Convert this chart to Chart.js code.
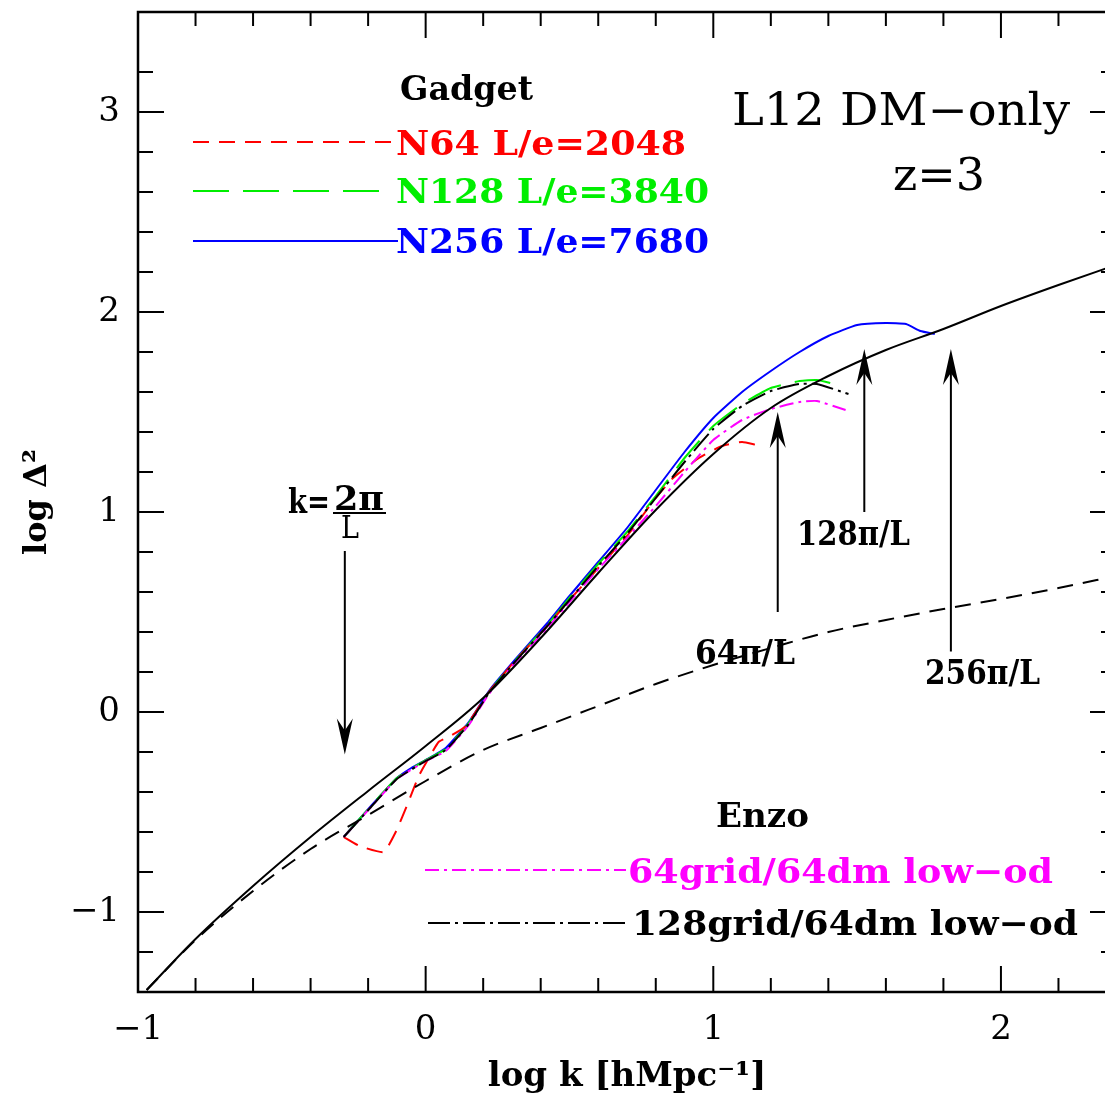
<!DOCTYPE html>
<html>
<head>
<meta charset="utf-8">
<script src="https://cdn.jsdelivr.net/npm/chart.js@4.4.0/dist/chart.umd.min.js"></script>
<style>
  body { margin: 0; overflow: hidden; background: #fff; }
</style>
</head>
<body>
<canvas id="chartPk" width="1120" height="1102"></canvas>
<script>
// log k values and log Delta^2 values
var linX   = [-0.97, -0.8, -0.6, -0.4, -0.2, 0.0, 0.2, 0.4, 0.6, 0.8, 1.0, 1.2, 1.4, 1.6, 1.8, 2.0, 2.2, 2.4];
var linY   = [-1.39, -1.14, -0.895, -0.685, -0.515, -0.345, -0.19, -0.08, 0.03, 0.14, 0.235, 0.32, 0.40, 0.46, 0.515, 0.565, 0.62, 0.68];
var nlX    = [-0.97, -0.8, -0.6, -0.4, -0.2, 0.0, 0.2, 0.4, 0.6, 0.8, 1.0, 1.2, 1.4, 1.6, 1.8, 2.0, 2.2, 2.4];
var nlY    = [-1.39, -1.135, -0.87, -0.625, -0.395, -0.17, 0.07, 0.37, 0.695, 1.01, 1.29, 1.52, 1.68, 1.81, 1.915, 2.03, 2.135, 2.235];

var n256X  = [-0.285, -0.19, -0.1, -0.05, 0.0, 0.07, 0.15, 0.22, 0.31, 0.42, 0.5, 0.6, 0.7, 0.8, 0.9, 1.0, 1.1, 1.2, 1.3, 1.4, 1.5, 1.6, 1.67, 1.72, 1.77];
var n256Y  = [-0.625, -0.47, -0.33, -0.28, -0.24, -0.18, -0.05, 0.105, 0.26, 0.44, 0.58, 0.75, 0.92, 1.11, 1.3, 1.47, 1.6, 1.705, 1.8, 1.88, 1.935, 1.945, 1.94, 1.905, 1.89];
var n128X  = [-0.285, -0.19, -0.1, 0.0, 0.07, 0.15, 0.22, 0.31, 0.42, 0.5, 0.6, 0.7, 0.8, 0.9, 1.0, 1.1, 1.2, 1.3, 1.36, 1.45];
var n128Y  = [-0.625, -0.47, -0.33, -0.24, -0.185, -0.055, 0.1, 0.255, 0.43, 0.57, 0.74, 0.9, 1.08, 1.27, 1.43, 1.54, 1.62, 1.655, 1.66, 1.63];
var n64X   = [-0.285, -0.23, -0.146, -0.104, -0.06, -0.024, 0.003, 0.045, 0.08, 0.14, 0.22, 0.31, 0.42, 0.5, 0.6, 0.7, 0.8, 0.86, 0.95, 1.03, 1.1, 1.15];
var n64Y   = [-0.625, -0.67, -0.70, -0.60, -0.45, -0.32, -0.25, -0.15, -0.125, -0.07, 0.1, 0.255, 0.425, 0.56, 0.72, 0.88, 1.07, 1.17, 1.27, 1.33, 1.35, 1.335];

var e64X   = [-0.285, -0.19, -0.1, 0.0, 0.07, 0.15, 0.22, 0.31, 0.42, 0.5, 0.6, 0.7, 0.8, 0.9, 1.0, 1.1, 1.2, 1.3, 1.36, 1.46];
var e64Y   = [-0.625, -0.475, -0.335, -0.245, -0.195, -0.065, 0.09, 0.245, 0.415, 0.55, 0.715, 0.87, 1.03, 1.2, 1.36, 1.46, 1.515, 1.55, 1.555, 1.51];
var e128X  = [-0.285, -0.19, -0.1, 0.0, 0.07, 0.15, 0.22, 0.31, 0.42, 0.5, 0.6, 0.7, 0.8, 0.9, 1.0, 1.1, 1.2, 1.3, 1.36, 1.47];
var e128Y  = [-0.625, -0.475, -0.335, -0.245, -0.19, -0.06, 0.095, 0.25, 0.425, 0.56, 0.73, 0.89, 1.07, 1.25, 1.415, 1.53, 1.605, 1.64, 1.64, 1.59];

// arrows: log k position, tail and tip in log Delta^2
var arrowK    = [-0.281, 1.224, 1.525, 1.826];
var arrowTail = [0.805, 0.50, 1.0, 0.303];
var arrowTip  = [-0.213, 1.50, 1.815, 1.815];

function pts(xs, ys) {
  return xs.map(function (v, i) { return { x: v, y: ys[i] }; });
}

var RED = '#ff0000', GREEN = '#00ee00', BLUE = '#0000ff', MAGENTA = '#ff00ff';
var BOLD = 'bold 34px "DejaVu Serif"';
var PLAIN = '44px "DejaVu Serif"';

// text drawn on top: [text, left x, baseline y, width, font, colour]
var notes = [
  ['Gadget', 400, 100, 133, BOLD, '#000'],
  ['N64 L/e=2048', 396, 155, 290, BOLD, RED],
  ['N128 L/e=3840', 396, 203, 313, BOLD, GREEN],
  ['N256 L/e=7680', 396, 253, 313, BOLD, BLUE],
  ['L12 DM\u2212only', 732, 125, 338, PLAIN, '#000'],
  ['z=3', 893, 190, 92, PLAIN, '#000'],
  ['Enzo', 716, 827, 93, BOLD, '#000'],
  ['64grid/64dm low\u2212od', 628, 883, 425, BOLD, MAGENTA],
  ['128grid/64dm low\u2212od', 632, 935, 446, BOLD, '#000'],
  ['k=', 288, 513, 42, BOLD, '#000'],
  ['2\u03c0', 334, 510, 50, BOLD, '#000'],
  ['L', 341, 538, 18, '32px "DejaVu Serif"', '#000'],
  ['64\u03c0/L', 695, 664, 100, BOLD, '#000'],
  ['128\u03c0/L', 797, 545, 113, BOLD, '#000'],
  ['256\u03c0/L', 925, 684, 115, BOLD, '#000']
];

// legend samples: [x0, x1, y, colour, dash]
var samples = [
  [193, 398, 142, RED, [16, 10]],
  [193, 388, 191, GREEN, [36, 14]],
  [193, 398, 241, BLUE, []],
  [425, 626, 870, MAGENTA, [14, 5, 3, 5]],
  [428, 630, 923, '#000', [22, 5, 3, 5]]
];

function fitText(ctx, str, x, base, w, font, color) {
  ctx.font = font;
  ctx.fillStyle = color;
  var m = ctx.measureText(str).width;
  ctx.save();
  ctx.translate(x, base);
  ctx.scale(w / m, 1);
  ctx.fillText(str, 0, 0);
  ctx.restore();
}

function seg(ctx, x0, y0, x1, y1) {
  ctx.beginPath();
  ctx.moveTo(x0, y0);
  ctx.lineTo(x1, y1);
  ctx.stroke();
}

var decorations = {
  id: 'decorations',
  afterDatasetsDraw: function (chart) {
    var ctx = chart.ctx, a = chart.chartArea;
    var xs = chart.scales.x, ys = chart.scales.y;
    ctx.save();
    ctx.strokeStyle = '#000';
    ctx.lineWidth = 2;
    ctx.setLineDash([]);

    xs.ticks.forEach(function (t) {
      var v = t.value;
      if (Math.abs(v * 5 - Math.round(v * 5)) > 1e-6) return;
      var len = Math.abs(v - Math.round(v)) < 1e-6 ? 26 : 14;
      var p = xs.getPixelForValue(v);
      seg(ctx, p, a.bottom, p, a.bottom - len);
      seg(ctx, p, a.top, p, a.top + len);
    });
    ys.ticks.forEach(function (t) {
      var v = t.value;
      if (Math.abs(v * 5 - Math.round(v * 5)) > 1e-6) return;
      var len = Math.abs(v - Math.round(v)) < 1e-6 ? 26 : 15;
      var p = ys.getPixelForValue(v);
      seg(ctx, a.left, p, a.left + len, p);
      seg(ctx, a.right, p, a.right - len, p);
    });

    ctx.lineWidth = 2.5;
    ctx.strokeRect(a.left, a.top, a.right - a.left, a.bottom - a.top);

    // arrows
    ctx.lineWidth = 2;
    ctx.fillStyle = '#000';
    arrowK.forEach(function (k, i) {
      var px = xs.getPixelForValue(k);
      var y0 = ys.getPixelForValue(arrowTail[i]);
      var y1 = ys.getPixelForValue(arrowTip[i]);
      var dir = y1 > y0 ? 1 : -1;
      seg(ctx, px, y0, px, y1 - dir * 20);
      ctx.beginPath();
      ctx.moveTo(px, y1);
      ctx.lineTo(px - 8, y1 - dir * 36);
      ctx.lineTo(px, y1 - dir * 24);
      ctx.lineTo(px + 8, y1 - dir * 36);
      ctx.closePath();
      ctx.fill();
    });

    // fraction bar of k = 2pi/L
    seg(ctx, 333, 513, 386, 513);

    // legend samples
    samples.forEach(function (s) {
      ctx.strokeStyle = s[3];
      ctx.setLineDash(s[4]);
      seg(ctx, s[0], s[2], s[1], s[2]);
    });
    ctx.setLineDash([]);

    ctx.textAlign = 'left';
    ctx.textBaseline = 'alphabetic';
    notes.forEach(function (n) {
      fitText(ctx, n[0], n[1], n[2], n[3], n[4], n[5]);
    });
    ctx.restore();
  }
};

function line(label, data, color, dash, smooth) {
  return {
    label: label,
    data: data,
    borderColor: color,
    borderWidth: 2,
    borderDash: dash,
    pointRadius: 0,
    fill: false,
    cubicInterpolationMode: smooth ? 'monotone' : 'default',
    tension: smooth ? 0.4 : 0.15
  };
}

function tickText(value) {
  if (Math.abs(value - Math.round(value)) > 1e-6) return '';
  var r = Math.round(value);
  return r < 0 ? '\u2212' + Math.abs(r) : String(r);
}

var ctx = document.getElementById('chartPk').getContext('2d');
var chartPk = new Chart(ctx, {
  type: 'line',
  data: {
    datasets: [
      line('linear', pts(linX, linY), '#000', [16, 10], true),
      line('nonlinear', pts(nlX, nlY), '#000', [], true),
      line('128grid/64dm low-od', pts(e128X, e128Y), '#000', [22, 5, 3, 5], false),
      line('64grid/64dm low-od', pts(e64X, e64Y), MAGENTA, [14, 5, 3, 5], false),
      line('N64 L/e=2048', pts(n64X, n64Y), RED, [16, 10], false),
      line('N128 L/e=3840', pts(n128X, n128Y), GREEN, [36, 14], false),
      line('N256 L/e=7680', pts(n256X, n256Y), BLUE, [], false)
    ]
  },
  options: {
    responsive: false,
    animation: false,
    layout: { padding: { top: 12, right: 4, left: 0, bottom: 0 } },
    plugins: {
      legend: { display: false },
      tooltip: { enabled: false }
    },
    scales: {
      x: {
        type: 'linear',
        min: -1,
        max: 2.4,
        grid: { display: false, drawTicks: false },
        border: { display: false },
        ticks: {
          stepSize: 0.2,
          autoSkip: false,
          maxRotation: 0,
          padding: 18,
          color: '#000',
          font: { family: 'DejaVu Serif', size: 34 },
          callback: tickText
        },
        title: {
          display: true,
          text: 'log k [hMpc\u207b\u00b9]',
          color: '#000',
          font: { family: 'DejaVu Serif', size: 34, weight: 'bold' },
          padding: { top: 0, bottom: 4 }
        },
        afterFit: function (s) {
          s.height = 110;
          s.paddingLeft = 0;
          s.paddingRight = 0;
        }
      },
      y: {
        min: -1.4,
        max: 3.5,
        grid: { display: false, drawTicks: false },
        border: { display: false },
        ticks: {
          stepSize: 0.2,
          autoSkip: false,
          padding: 18,
          color: '#000',
          font: { family: 'DejaVu Serif', size: 34 },
          callback: tickText
        },
        title: {
          display: true,
          text: 'log \u0394\u00b2',
          color: '#000',
          font: { family: 'DejaVu Serif', size: 32, weight: 'bold' },
          padding: { top: 18, bottom: 0 }
        },
        afterFit: function (s) {
          s.width = 138;
          s.paddingTop = 0;
          s.paddingBottom = 0;
        }
      }
    }
  },
  plugins: [decorations]
});
</script>
</body>
</html>
